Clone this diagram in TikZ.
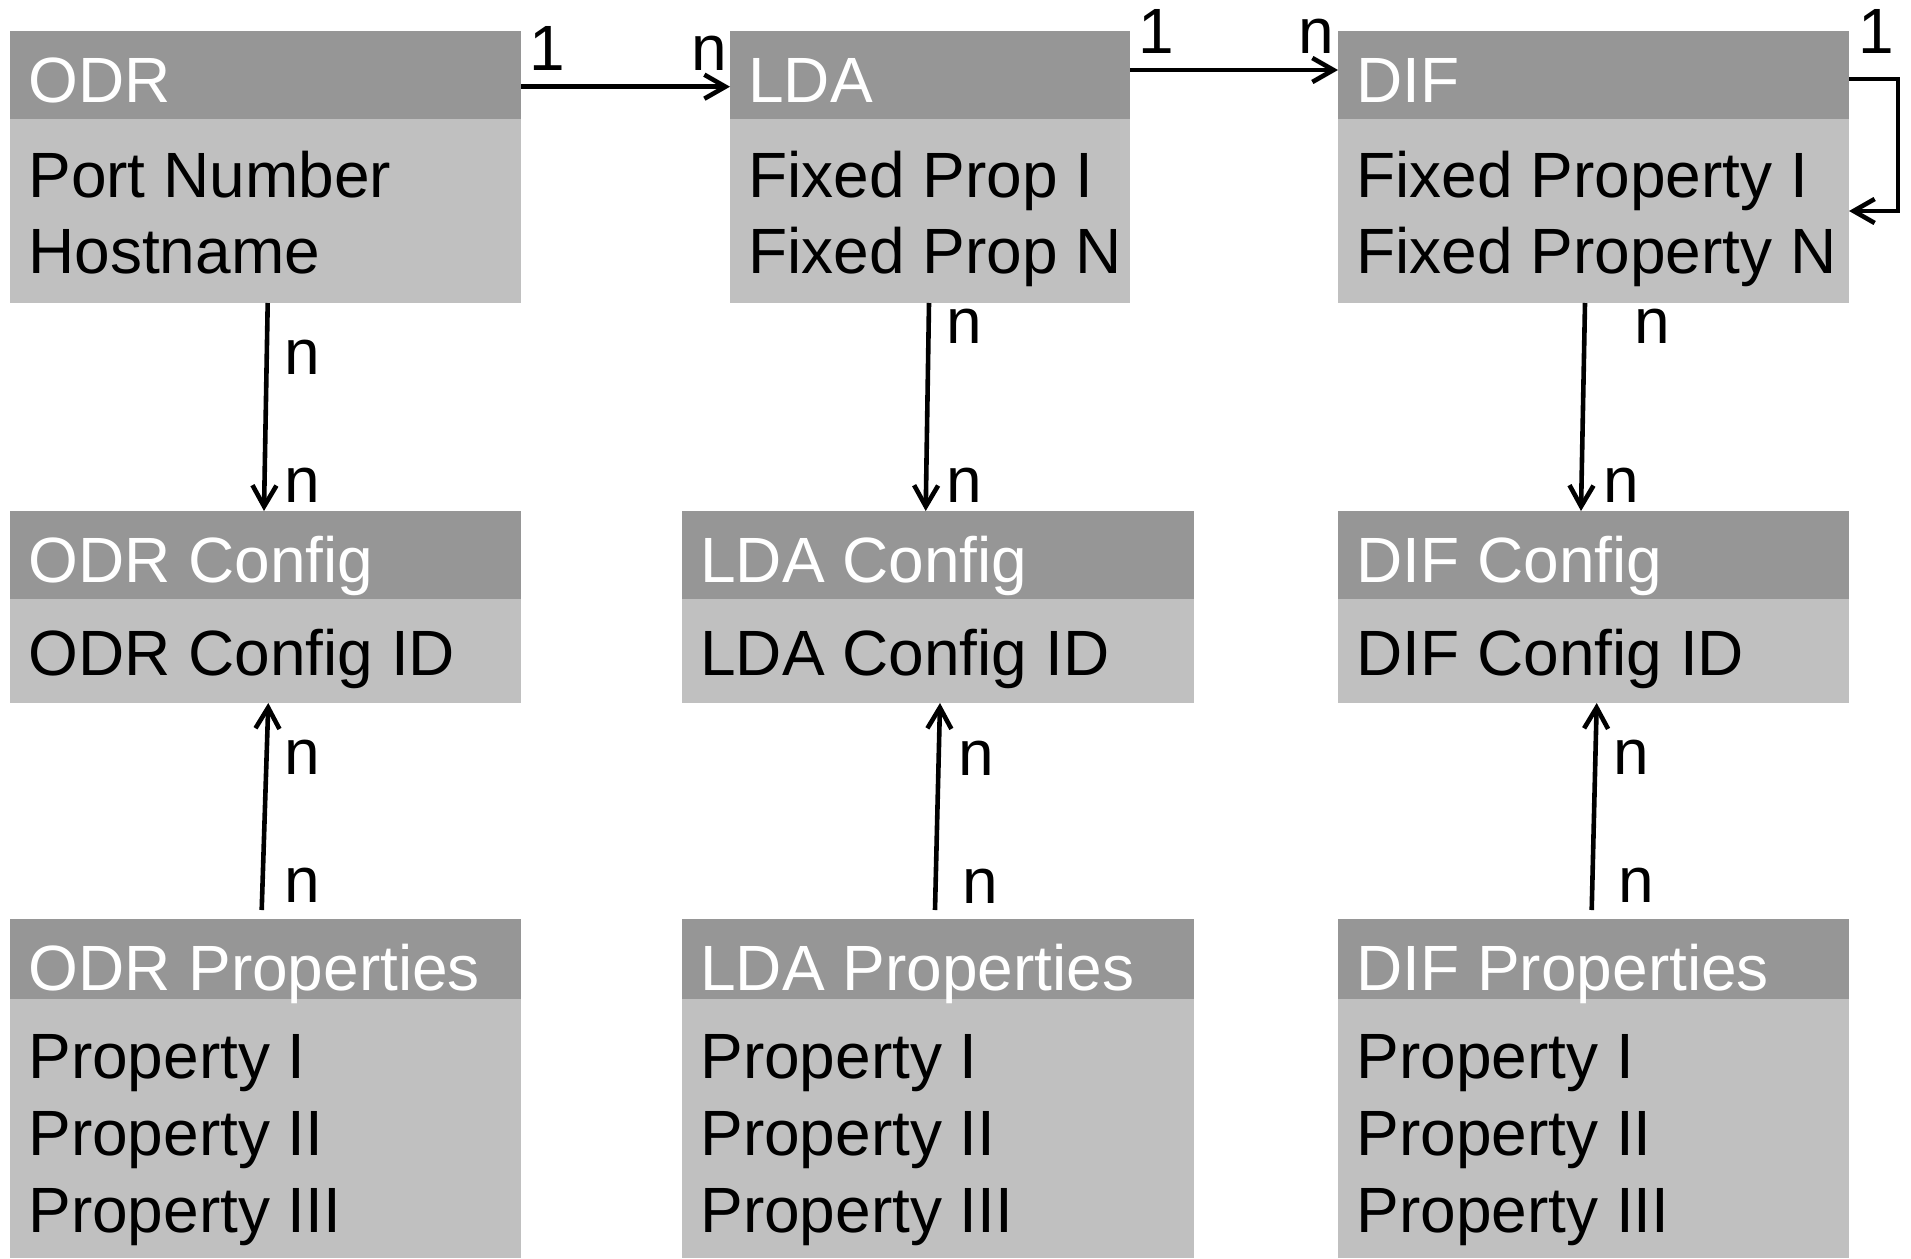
\documentclass[tikz,border=0pt]{standalone}
\usepackage{fontspec}
\setmainfont{Liberation Sans}
\usetikzlibrary{arrows.meta}
\definecolor{hdrgray}{RGB}{150,150,150}
\definecolor{bodygray}{RGB}{192,192,192}
\newcommand{\entfont}{\fontsize{32pt}{38pt}\selectfont}
\begin{document}
\begin{tikzpicture}[x=0.5pt,y=-0.5pt,
  sz/.style 2 args={minimum width=#1*0.5pt, minimum height=#2*0.5pt},
  hdr/.style={fill=hdrgray, draw=none, inner sep=0pt, outer sep=0pt, anchor=north west, rectangle},
  bdy/.style={fill=bodygray, draw=none, inner sep=0pt, outer sep=0pt, anchor=north west, rectangle},
  htxt/.style={text=white, anchor=base west, inner sep=0pt, font=\entfont},
  btxt/.style={text=black, anchor=base west, inner sep=0pt, font=\entfont},
  lbl/.style={text=black, anchor=base west, inner sep=0pt, font=\entfont},
  arr/.style={draw=black, line width=2.3pt, -{Straight Barb[length=10.5pt,width=12pt,line width=2.3pt]}}
]
\useasboundingbox (0,0) rectangle (1911,1258);

% ---------- top row: entities ----------
\node[hdr, sz={511}{88}]  (odrH) at (10,31) {};
\node[bdy, sz={511}{184}] (odrB) at (10,119) {};
\node[htxt] (odrT)  at (28,102) {ODR};
\node[btxt] (odrL1) at (28,197) {Port Number};
\node[btxt] (odrL2) at (28,273) {Hostname};

\node[hdr, sz={400}{88}]  (ldaH) at (730,31) {};
\node[bdy, sz={400}{184}] (ldaB) at (730,119) {};
\node[htxt] (ldaT)  at (748,102) {LDA};
\node[btxt] (ldaL1) at (748,197) {Fixed Prop I};
\node[btxt] (ldaL2) at (748,273) {Fixed Prop N};

\node[hdr, sz={511}{88}]  (difH) at (1338,31) {};
\node[bdy, sz={511}{184}] (difB) at (1338,119) {};
\node[htxt] (difT)  at (1356,102) {DIF};
\node[btxt] (difL1) at (1356,197) {Fixed Property I};
\node[btxt] (difL2) at (1356,273) {Fixed Property N};

% ---------- middle row: configurations ----------
\node[hdr, sz={511}{88}]  (odrcH) at (10,511) {};
\node[bdy, sz={511}{104}] (odrcB) at (10,599) {};
\node[htxt] (odrcT)  at (28,582) {ODR Config};
\node[btxt] (odrcL1) at (28,675) {ODR Config ID};

\node[hdr, sz={512}{88}]  (ldacH) at (682,511) {};
\node[bdy, sz={512}{104}] (ldacB) at (682,599) {};
\node[htxt] (ldacT)  at (700,582) {LDA Config};
\node[btxt] (ldacL1) at (700,675) {LDA Config ID};

\node[hdr, sz={511}{88}]  (difcH) at (1338,511) {};
\node[bdy, sz={511}{104}] (difcB) at (1338,599) {};
\node[htxt] (difcT)  at (1356,582) {DIF Config};
\node[btxt] (difcL1) at (1356,675) {DIF Config ID};

% ---------- bottom row: properties ----------
\node[hdr, sz={511}{80}]  (odrpH) at (10,919) {};
\node[bdy, sz={511}{259}] (odrpB) at (10,999) {};
\node[htxt] (odrpT)  at (28,990) {ODR Properties};
\node[btxt] (odrpL1) at (28,1078) {Property I};
\node[btxt] (odrpL2) at (28,1155) {Property II};
\node[btxt] (odrpL3) at (28,1232) {Property III};

\node[hdr, sz={512}{80}]  (ldapH) at (682,919) {};
\node[bdy, sz={512}{259}] (ldapB) at (682,999) {};
\node[htxt] (ldapT)  at (700,990) {LDA Properties};
\node[btxt] (ldapL1) at (700,1078) {Property I};
\node[btxt] (ldapL2) at (700,1155) {Property II};
\node[btxt] (ldapL3) at (700,1232) {Property III};

\node[hdr, sz={511}{80}]  (difpH) at (1338,919) {};
\node[bdy, sz={511}{259}] (difpB) at (1338,999) {};
\node[htxt] (difpT)  at (1356,990) {DIF Properties};
\node[btxt] (difpL1) at (1356,1078) {Property I};
\node[btxt] (difpL2) at (1356,1155) {Property II};
\node[btxt] (difpL3) at (1356,1232) {Property III};

% ---------- horizontal relations ----------
\draw[arr] ([yshift=-5.85pt]odrH.east) -- ([yshift=-5.85pt]ldaH.west);
\draw[arr] ([yshift=2.5pt]ldaH.east) -- ([yshift=2.5pt]difH.west);
\draw[arr] ([yshift=-2pt]difH.east) -- ++(49,0) |- (difB.east);

\node[lbl] (m1) at (529,70) {1};
\node[lbl] (m2) at (691,70) {n};
\node[lbl] (m3) at (1138,53) {1};
\node[lbl] (m4) at (1298,53) {n};
\node[lbl] (m5) at (1858,53) {1};

% ---------- entity -> config ----------
\draw[arr] ([xshift=1.1pt]odrB.south) -- ([xshift=-0.75pt]odrcH.north);
\draw[arr] ([xshift=-0.5pt]ldaB.south) -- ([xshift=-6.15pt]ldacH.north);
\draw[arr] ([xshift=-4.25pt]difB.south) -- ([xshift=-6.25pt]difcH.north);

\node[lbl] (a1) at (284,374) {n};
\node[lbl] (a2) at (284,502) {n};
\node[lbl] (b1) at (946,343) {n};
\node[lbl] (b2) at (946,502) {n};
\node[lbl] (c1) at (1634,343) {n};
\node[lbl] (c2) at (1603,502) {n};

% ---------- properties -> config ----------
\draw[arr] ([xshift=-1.9pt,yshift=4.5pt]odrpH.north) -- ([xshift=1.4pt]odrcB.south);
\draw[arr] ([xshift=-1.5pt,yshift=4.5pt]ldapH.north) -- ([xshift=1pt]ldacB.south);
\draw[arr] ([xshift=-0.9pt,yshift=4.5pt]difpH.north) -- ([xshift=1.6pt]difcB.south);

\node[lbl] (d1) at (284,774) {n};
\node[lbl] (d2) at (284,902) {n};
\node[lbl] (e1) at (958,775) {n};
\node[lbl] (e2) at (962,903) {n};
\node[lbl] (f1) at (1613,774) {n};
\node[lbl] (f2) at (1618,902) {n};
\end{tikzpicture}
\end{document}
